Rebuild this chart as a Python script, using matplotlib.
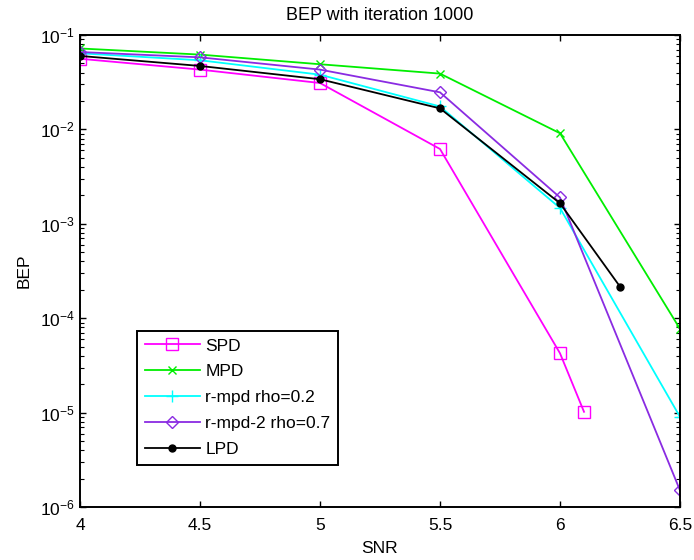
import matplotlib.pyplot as plt
import numpy as np

plt.rcParams['font.family'] = ['Liberation Sans', 'DejaVu Sans']

# SNR points per curve
snr_spd = [4, 4.5, 5, 5.5, 6, 6.1]
bep_spd = [5.6e-2, 4.3e-2, 3.1e-2, 6.2e-3, 4.25e-5, 1.02e-5]

snr_mpd = [4, 4.5, 5, 5.5, 6, 6.5]
bep_mpd = [7.2e-2, 6.2e-2, 4.9e-2, 3.9e-2, 9.1e-3, 7.7e-5]

snr_rmpd = [4, 4.5, 5, 5.5, 6, 6.5]
bep_rmpd = [6.4e-2, 5.4e-2, 3.8e-2, 1.75e-2, 1.47e-3, 9.0e-6]

snr_rmpd2 = [4, 4.5, 5, 5.5, 6, 6.5]
bep_rmpd2 = [6.6e-2, 5.8e-2, 4.3e-2, 2.47e-2, 1.9e-3, 1.5e-6]

snr_lpd = [4, 4.5, 5, 5.5, 6, 6.25]
bep_lpd = [6.0e-2, 4.7e-2, 3.4e-2, 1.67e-2, 1.65e-3, 2.16e-4]

fig = plt.figure(figsize=(6.94, 5.6), dpi=100)
ax = fig.add_axes([80 / 694, 53 / 560, 600 / 694, 472 / 560])

lw = 1.3
ax.semilogy(snr_spd, bep_spd, color='#ff00ff', marker='s', markersize=8.5,
            markerfacecolor='none', lw=lw, label='SPD')
ax.semilogy(snr_mpd, bep_mpd, color='#00ee00', marker='x', markersize=5.5,
            lw=lw, label='MPD')
ax.semilogy(snr_rmpd, bep_rmpd, color='#00ffff', marker='+', markersize=9,
            lw=lw, label='r-mpd rho=0.2')
ax.semilogy(snr_rmpd2, bep_rmpd2, color='#8a2be2', marker='D', markersize=6.5,
            markerfacecolor='none', lw=lw, label='r-mpd-2 rho=0.7')
ax.semilogy(snr_lpd, bep_lpd, color='black', marker='o', markersize=5,
            lw=lw, label='LPD')

ax.set_xlim(4, 6.5)
ax.set_ylim(1e-6, 1e-1)
ax.set_xticks([4, 4.5, 5, 5.5, 6, 6.5])
ax.set_xticklabels(['4', '4.5', '5', '5.5', '6', '6.5'])
ax.tick_params(which='both', direction='in', top=True, right=True, labelsize=12.5)
ax.tick_params(axis='x', pad=8)
ax.tick_params(which='major', length=4, width=1)
ax.tick_params(which='minor', length=3, width=0.8)
for s in ax.spines.values():
    s.set_linewidth(1.4)

ax.set_xlabel('SNR', fontsize=12.5, labelpad=6)
ax.set_ylabel('BEP', fontsize=12.5, labelpad=6)
ax.set_title('BEP with iteration 1000', fontsize=13, pad=10.5)

leg = ax.legend(loc='lower left', bbox_to_anchor=(0.0945, 0.089), fontsize=12.5,
                fancybox=False, edgecolor='black', framealpha=1,
                handlelength=3.2, handletextpad=0.3, labelspacing=0.62,
                borderpad=0.45, borderaxespad=0)
leg.get_frame().set_linewidth(1.4)

fig.savefig('out.png', dpi=100)
